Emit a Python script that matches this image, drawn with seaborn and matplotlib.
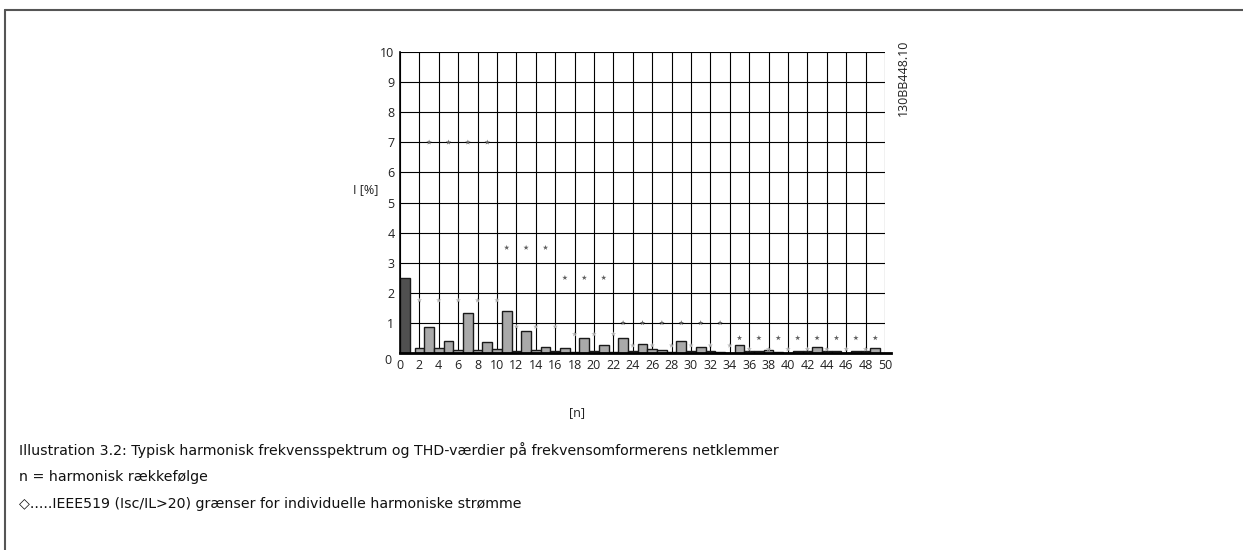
import numpy as np
import matplotlib
matplotlib.use("Agg")
import matplotlib.pyplot as plt
import matplotlib.transforms as mtransforms
from matplotlib.lines import Line2D
import seaborn as sns

# harmonic current spectrum, % of fundamental
harmonic_n = list(range(2, 50))
harmonic_pct = [0.17, 0.88, 0.15, 0.40, 0.10, 1.32, 0.10, 0.37, 0.13, 1.40,
                0.07, 0.72, 0.10, 0.21, 0.06, 0.18, 0.04, 0.51, 0.05, 0.26,
                0.03, 0.51, 0.06, 0.31, 0.13, 0.11, 0.04, 0.41, 0.08, 0.21,
                0.08, 0.02, 0.01, 0.28, 0.08, 0.07, 0.11, 0.02, 0.01, 0.08,
                0.08, 0.19, 0.06, 0.08, 0.01, 0.07, 0.08, 0.17]
thd_x = [0.5]
thd_pct = [2.5]

# IEEE519 (Isc/IL>20) limits
odd_n = [3, 5, 7, 9, 11, 13, 15, 17, 19, 21, 23, 25, 27, 29, 31, 33,
         35, 37, 39, 41, 43, 45, 47, 49]
odd_limit = [7.0, 7.0, 7.0, 7.0, 3.5, 3.5, 3.5, 2.5, 2.5, 2.5, 1.0, 1.0,
             1.0, 1.0, 1.0, 1.0, 0.5, 0.5, 0.5, 0.5, 0.5, 0.5, 0.5, 0.5]
even_n = [2, 4, 6, 8, 10, 12, 14, 16, 18, 20, 22, 24, 26, 28, 30, 32,
          34, 36, 38, 40, 42, 44, 46, 48]
even_limit = [1.75, 1.75, 1.75, 1.75, 1.75, 0.875, 0.875, 0.875, 0.625, 0.625,
              0.625, 0.25, 0.25, 0.25, 0.25, 0.25, 0.25, 0.125, 0.125, 0.125,
              0.125, 0.125, 0.125, 0.125]

x_ticks = list(range(0, 51, 2))
y_ticks = list(range(0, 11))

caption = [
    "Illustration 3.2: Typisk harmonisk frekvensspektrum og THD-værdier på frekvensomformerens netklemmer",
    "n = harmonisk rækkefølge",
    "\u25c7.....IEEE519 (Isc/IL>20) grænser for individuelle harmoniske strømme",
]

sns.set_style("white")
plt.rcParams['font.family'] = ['Open Sans', 'DejaVu Sans']

W, H = 1243, 550
fig = plt.figure(figsize=(W / 100, H / 100), dpi=100)
ax = fig.add_axes([400 / W, 1 - 353 / H, 485 / W, 301 / H])

ax.grid(True, color="black", linewidth=0.8)
ax.set_axisbelow(True)

sns.barplot(x=harmonic_n, y=harmonic_pct, native_scale=True, width=1,
            color="#a9a9a9", edgecolor="#1a1a1a", linewidth=1.0,
            errorbar=None, ax=ax, zorder=2)
sns.barplot(x=thd_x, y=thd_pct, native_scale=True, width=1,
            color="#505050", edgecolor="#1a1a1a", linewidth=1.0,
            errorbar=None, ax=ax, zorder=2)

sns.scatterplot(x=odd_n, y=odd_limit, marker="*", s=16, color="#606060",
                edgecolor="none", ax=ax, zorder=3)
sns.scatterplot(x=even_n, y=even_limit, marker="*", s=16, color="#b0b0b0",
                edgecolor="none", ax=ax, zorder=3)

ax.set_xlim(0, 50)
ax.set_ylim(0, 10)
ax.set_xticks(x_ticks)
ax.set_yticks(y_ticks)
ax.tick_params(length=0, labelsize=9, pad=4, labelcolor="#222222")
for s in ["top", "right"]:
    ax.spines[s].set_visible(False)
ax.spines["left"].set_color("black")
ax.spines["left"].set_linewidth(1.2)
ax.spines["bottom"].set_color("black")
ax.spines["bottom"].set_linewidth(2.0)
ax.spines["bottom"].set_bounds(0, 50.6)

# lower the "0" on the y axis like the original
ylab0 = ax.get_yticklabels()[0]
ylab0.set_transform(ylab0.get_transform() +
                    mtransforms.ScaledTranslation(-3 / 100, -6 / 100, fig.dpi_scale_trans))

ax.set_ylabel("I [%]", rotation=0, fontsize=9, color="#222222", ha="right", va="center")
ax.yaxis.set_label_coords(-(400 - 378) / 485, (353 - 190) / 301)
ax.set_xlabel("[n]", fontsize=9, color="#222222", va="center")
ax.xaxis.set_label_coords((577 - 400) / 485, -(413 - 353) / 301)

fig.text(903 / W, 1 - 40 / H, "130BB448.10", rotation=90, ha="center", va="top",
         fontsize=9, color="#222222")

for i, line in enumerate(caption):
    fig.text(19 / W, 1 - (450 + 27 * i) / H, line, ha="left", va="center",
             fontsize=10.2, color="#111111", family=["DejaVu Sans"])

# frame
fig.add_artist(Line2D([4.5 / W, 4.5 / W], [0, 1 - 9.5 / H], transform=fig.transFigure,
                      color="#555555", linewidth=1.5))
fig.add_artist(Line2D([4.5 / W, 1], [1 - 9.5 / H, 1 - 9.5 / H], transform=fig.transFigure,
                      color="#555555", linewidth=1.5))

fig.savefig("out.png", dpi=100)
plt.close(fig)
